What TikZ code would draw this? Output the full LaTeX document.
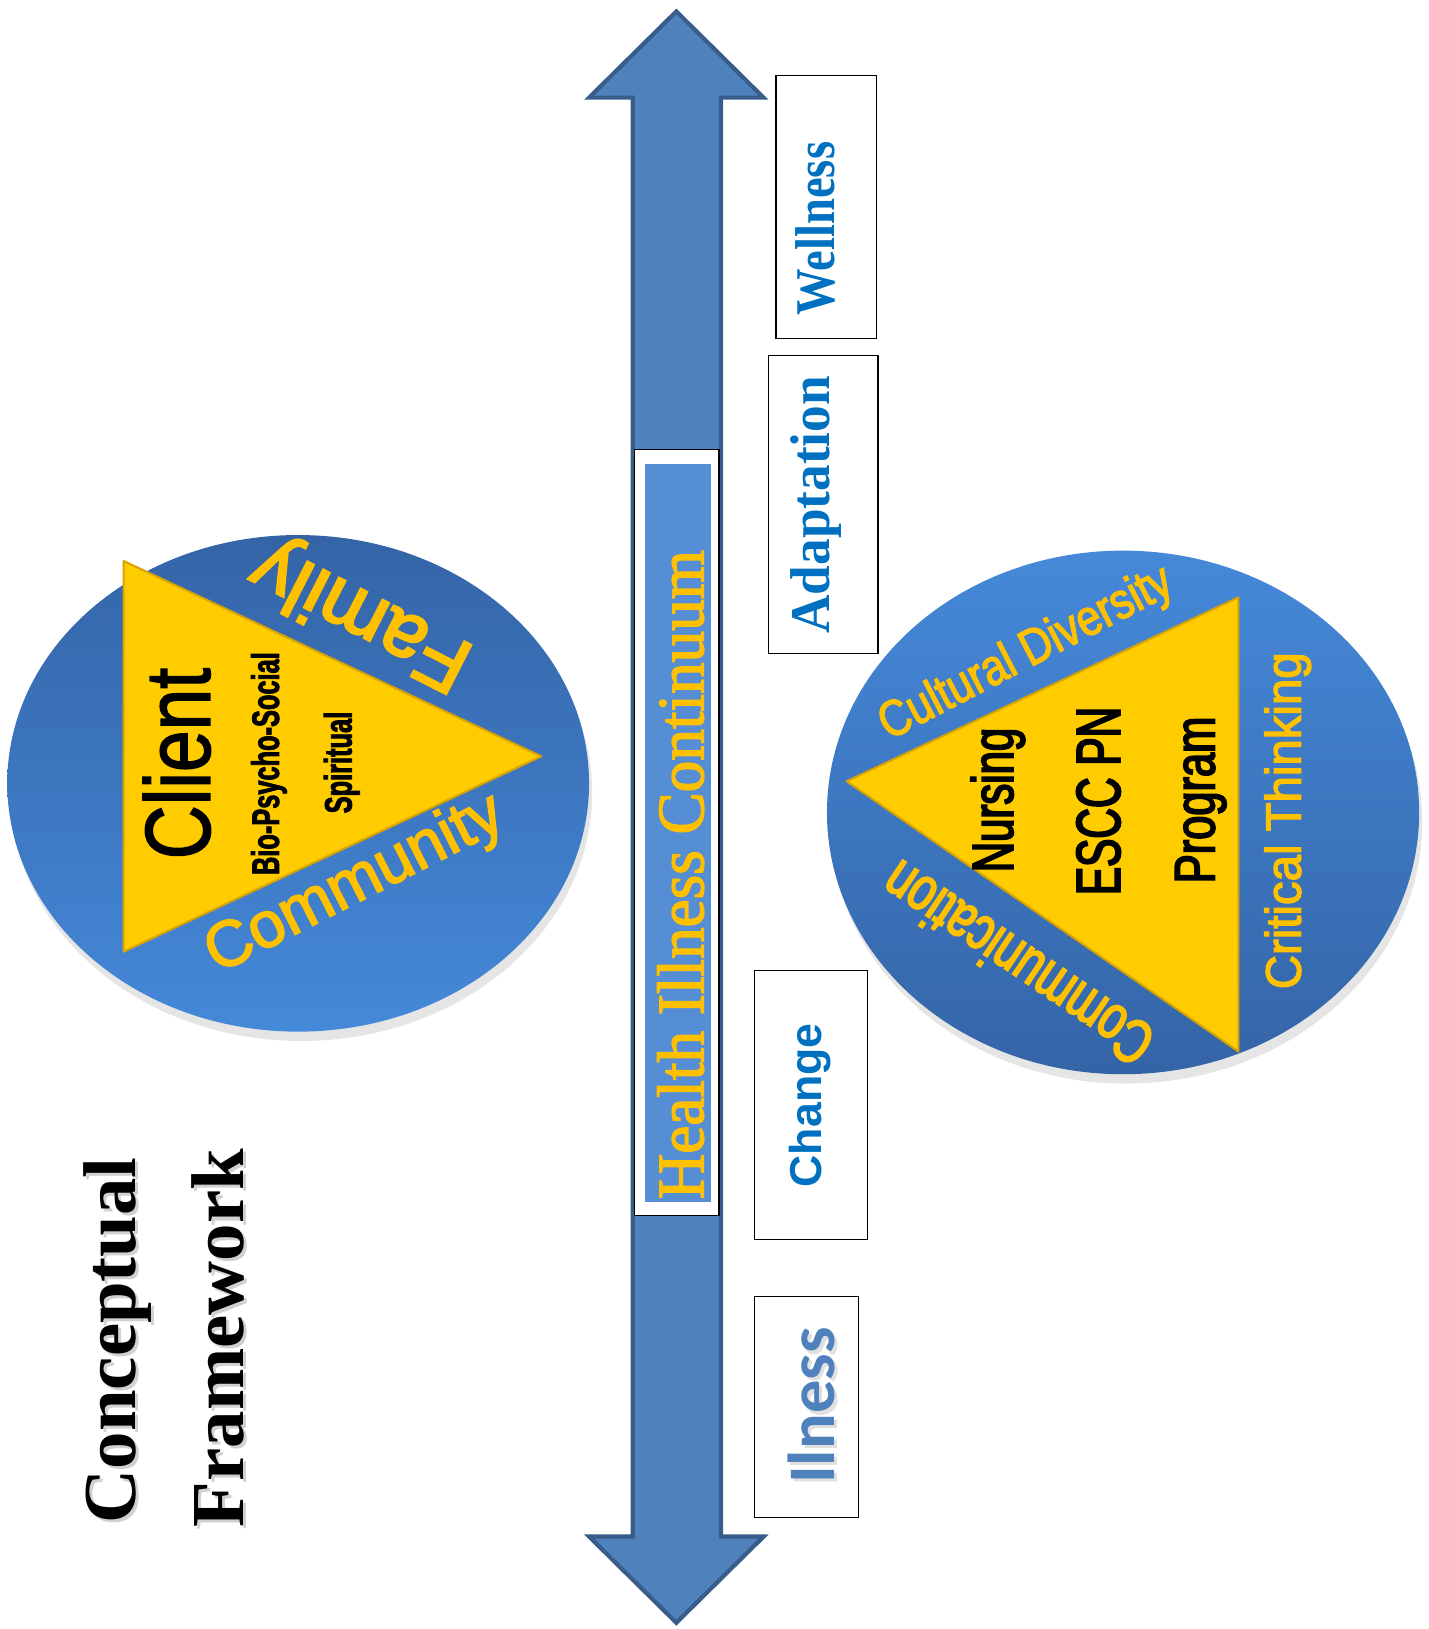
\documentclass[tikz,border=0pt]{standalone}
\usepackage{fontspec}
\setmainfont{Liberation Serif}
% sans / serif faces with a horizontal stretch and an optional emboldening
\newcommand\ssans[2]{\fontspec{Liberation Sans}[FakeStretch=#1,FakeBold=#2]}
\newcommand\sserif[2]{\fontspec{Liberation Serif}[FakeStretch=#1,FakeBold=#2]}
\newfontfamily\carlito{Carlito}
\newcommand\fs[1]{\fontsize{#1}{#1}\selectfont}

\definecolor{arrowblue}{HTML}{4F81BD}
\definecolor{arrowedge}{HTML}{385D8A}
\definecolor{bandblue}{HTML}{558ED5}
\definecolor{gold}{HTML}{FFC000}
\definecolor{triyellow}{HTML}{FFCC00}
\definecolor{triedge}{HTML}{D9A400}
\definecolor{labelblue}{HTML}{0070C0}
\definecolor{balldark}{HTML}{3464A6}
\definecolor{balllight}{HTML}{4589D9}

\begin{document}
\begin{tikzpicture}[x=1pt,y=-1pt,
  lbl/.style={inner sep=0pt, outer sep=0pt},
  vtext/.style={lbl, rotate=90, anchor=base},
  stagebox/.style={draw=black, line width=1.2pt, fill=white},
  tri/.style={fill=triyellow, draw=triedge, line width=2pt, line join=round},
  ballshadow/.style={fill=black, opacity=0.10}]
\useasboundingbox (0,0) rectangle (1375,1568);

% ---- central double arrow ----
\draw[fill=arrowblue, draw=arrowedge, line width=4pt, line join=miter]
  (651,11) -- (735,94) -- (694,94) -- (694,1479) -- (735,1479) -- (651,1562)
  -- (567,1479) -- (609,1479) -- (609,94) -- (567,94) -- cycle;

% continuum label band
\draw[stagebox] (611,433) rectangle (692,1170);
\fill[bandblue] (621,447) rectangle (684,1157);
\node[vtext, font=\sserif{0.95}{2}\fs{64}, text=gold] (continuum) at (677,842) {Health Illness Continuum};

% ---- stage boxes on the right of the arrow ----
\draw[stagebox] (747,73) rectangle (844,326);
\node[vtext, font=\sserif{0.83}{0}\bfseries\fs{54}, text=labelblue] (wellness) at (803,220) {Wellness};

\draw[stagebox] (740,342) rectangle (845,629);
\node[vtext, font=\sserif{0.95}{0}\bfseries\fs{54}, text=labelblue] (adaptation) at (798,486) {Adaptation};

\draw[stagebox] (726,934) rectangle (835,1193);
\node[vtext, font=\ssans{1}{0}\bfseries\fs{43}, text=labelblue] (change) at (791,1064) {Change};

\draw[stagebox] (726,1248) rectangle (826,1461);
\node[vtext, font=\carlito\bfseries\fs{64}, text=black!12] at (806,1356) {Ilness};
\node[vtext, font=\carlito\bfseries\fs{64}, text=arrowblue] (ilness) at (803,1353) {Ilness};

% ---- client ball ----
\fill[ballshadow] (290,763) ellipse [x radius=280pt, y radius=239pt];
\shade[top color=balldark, bottom color=balllight] (287,754) ellipse [x radius=280pt, y radius=239pt];
\draw[tri] (119,540) -- (119,916) -- (521,728) -- cycle;
\node[vtext, font=\ssans{0.81}{1.5}\fs{89}] (client) at (202,735) {Client};
\node[vtext, font=\ssans{0.66}{2}\bfseries\fs{37}] (bps) at (268.5,735) {Bio-Psycho-Social};
\node[vtext, font=\ssans{0.66}{2}\bfseries\fs{37}] (spiritual) at (338.5,734) {Spiritual};
\node[lbl, rotate=153, font=\ssans{1}{3}\fs{77}, text=gold] (family) at (349,590) {Family};
\node[lbl, rotate=27, font=\ssans{1}{2.5}\fs{62}, text=gold] (community) at (342,852) {Community};

% ---- program ball ----
\fill[ballshadow] (1084,791) ellipse [x radius=285pt, y radius=252pt];
\shade[top color=balllight, bottom color=balldark] (1081,782) ellipse [x radius=285pt, y radius=252pt];
\draw[tri] (815,752) -- (1192,575) -- (1192,1012) -- cycle;
\node[vtext, font=\ssans{0.72}{3}\fs{56}] (nursing) at (975,770) {Nursing};
\node[vtext, font=\ssans{0.68}{3}\fs{60}] (escc) at (1078,771) {ESCC PN};
\node[vtext, font=\ssans{0.76}{3}\fs{55}] (program) at (1169,770) {Program};
\node[vtext, font=\ssans{0.95}{2.5}\fs{48}, text=gold] (critical) at (1252,790) {Critical Thinking};
\node[lbl, rotate=27.4, font=\ssans{0.84}{2.5}\fs{49}, text=gold] (cultural) at (988,630) {Cultural Diversity};
\node[lbl, rotate=146, font=\ssans{0.72}{3}\fs{60}, text=gold] (communication) at (979,928) {Communication};

% ---- title ----
\begin{scope}[font=\bfseries\fs{72}]
  \node[vtext, text=black!18] at (133,1293) {Conceptual};
  \node[vtext, text=black!18] at (237,1291) {Framework};
  \node[vtext] (title1) at (130,1290) {Conceptual};
  \node[vtext] (title2) at (234,1288) {Framework};
\end{scope}
\end{tikzpicture}
\end{document}
